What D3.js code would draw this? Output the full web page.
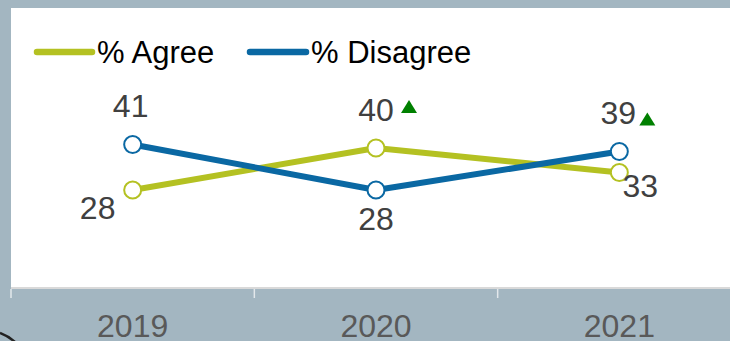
<!DOCTYPE html>
<html>
<head>
<meta charset="utf-8">
<script src="https://cdn.jsdelivr.net/npm/d3@7/dist/d3.min.js"></script>
<style>
  html, body { margin: 0; padding: 0; background: #a3b6c1; }
  svg { display: block; }
  text { font-family: "Liberation Sans", Arial, sans-serif; }
</style>
</head>
<body>
<svg id="chart" width="730" height="341"></svg>
<script>
// Survey results by year
const years = ["2019", "2020", "2021"];
const agreeValues = [28, 40, 33];
const disagreeValues = [41, 28, 39];
// Significant increase versus the previous wave
const agreeSignificant = [false, true, false];
const disagreeSignificant = [false, false, true];
const seriesNames = ["% Agree", "% Disagree"];

const W = 730, H = 341;
const plot = { left: 11, top: 8, right: 741, bottom: 288 };
const colors = { agree: "#b4c122", disagree: "#0a68a3" };

const svg = d3.select("#chart");

// white plotting panel
svg.append("rect")
  .attr("x", plot.left).attr("y", plot.top)
  .attr("width", W - plot.left).attr("height", plot.bottom - plot.top)
  .attr("fill", "#ffffff");

const x = d3.scaleBand().domain(years).range([plot.left, plot.right]);
const y = d3.scaleLinear().domain([0, 80]).range([plot.bottom, plot.top]);
const cx = d => x(d) + x.bandwidth() / 2;

// category axis
const axis = svg.append("g")
  .attr("transform", `translate(0,${plot.bottom})`)
  .call(d3.axisBottom(x).tickSize(0).tickPadding(0));
axis.select(".domain").remove();
axis.append("line")
  .attr("x1", plot.left).attr("x2", W)
  .attr("y1", 0).attr("y2", 0)
  .attr("stroke", "#d9d9d9").attr("stroke-width", 2);
axis.selectAll(".sep")
  .data(years)
  .join("line")
  .attr("class", "sep")
  .attr("x1", d => x(d)).attr("x2", d => x(d))
  .attr("y1", 1).attr("y2", 10)
  .attr("stroke", "#e3e8eb").attr("stroke-width", 1.5);
axis.selectAll(".tick text")
  .attr("y", 49)
  .attr("dy", 0)
  .attr("fill", "#595959")
  .attr("font-size", 32)
  .attr("font-family", "Liberation Sans, Arial, sans-serif");

// series
const series = [
  { key: "agree", name: seriesNames[0], values: agreeValues, sig: agreeSignificant, color: colors.agree },
  { key: "disagree", name: seriesNames[1], values: disagreeValues, sig: disagreeSignificant, color: colors.disagree }
];

const line = d3.line().x((d, i) => cx(years[i])).y(d => y(d));

series.forEach(s => {
  svg.append("path")
    .datum(s.values)
    .attr("d", line)
    .attr("fill", "none")
    .attr("stroke", s.color)
    .attr("stroke-width", 6)
    .attr("stroke-linejoin", "round");
});

series.forEach(s => {
  svg.selectAll(`.pt-${s.key}`)
    .data(s.values)
    .join("circle")
    .attr("class", `pt-${s.key}`)
    .attr("cx", (d, i) => cx(years[i]))
    .attr("cy", d => y(d))
    .attr("r", 8.5)
    .attr("fill", "#ffffff")
    .attr("stroke", s.color)
    .attr("stroke-width", 2);
});

// value label placement around each point
const labelOffset = {
  agree: [[-35, 29], [0, -27], [21, 24]],
  disagree: [[-2, -27.5], [0, 40], [-1, -27.5]]
};
const triOffset = {
  agree: [null, [33, -35], null],
  disagree: [null, null, [28, -26]]
};

series.forEach(s => {
  s.values.forEach((v, i) => {
    const px = cx(years[i]), py = y(v);
    const [dx, dy] = labelOffset[s.key][i];
    svg.append("text")
      .attr("x", px + dx).attr("y", py + dy)
      .attr("text-anchor", "middle")
      .attr("font-size", 32)
      .attr("fill", "#404040")
      .text(v);
    if (s.sig[i]) {
      const [tx, ty] = triOffset[s.key][i];
      const bx = px + tx, by = py + ty;
      svg.append("path")
        .attr("d", `M${bx - 8},${by} L${bx + 8},${by} L${bx},${by - 13} Z`)
        .attr("fill", "#008000");
    }
  });
});

// legend
const legendPos = [{ x: 37, w: 55 }, { x: 250, w: 56 }];
series.forEach((s, i) => {
  const g = svg.append("g").attr("transform", `translate(${legendPos[i].x},52)`);
  g.append("line")
    .attr("x1", 0).attr("x2", legendPos[i].w)
    .attr("y1", 0).attr("y2", 0)
    .attr("stroke", s.color)
    .attr("stroke-width", 6.5)
    .attr("stroke-linecap", "round");
  g.append("text")
    .attr("x", legendPos[i].w + 5).attr("y", 11)
    .attr("font-size", 31)
    .attr("fill", "#000000")
    .text(s.name);
});

// corner stroke at lower left
svg.append("path")
  .attr("d", "M0,333 Q8,336 15,342")
  .attr("fill", "none")
  .attr("stroke", "#222")
  .attr("stroke-width", 2.5);
</script>
</body>
</html>
